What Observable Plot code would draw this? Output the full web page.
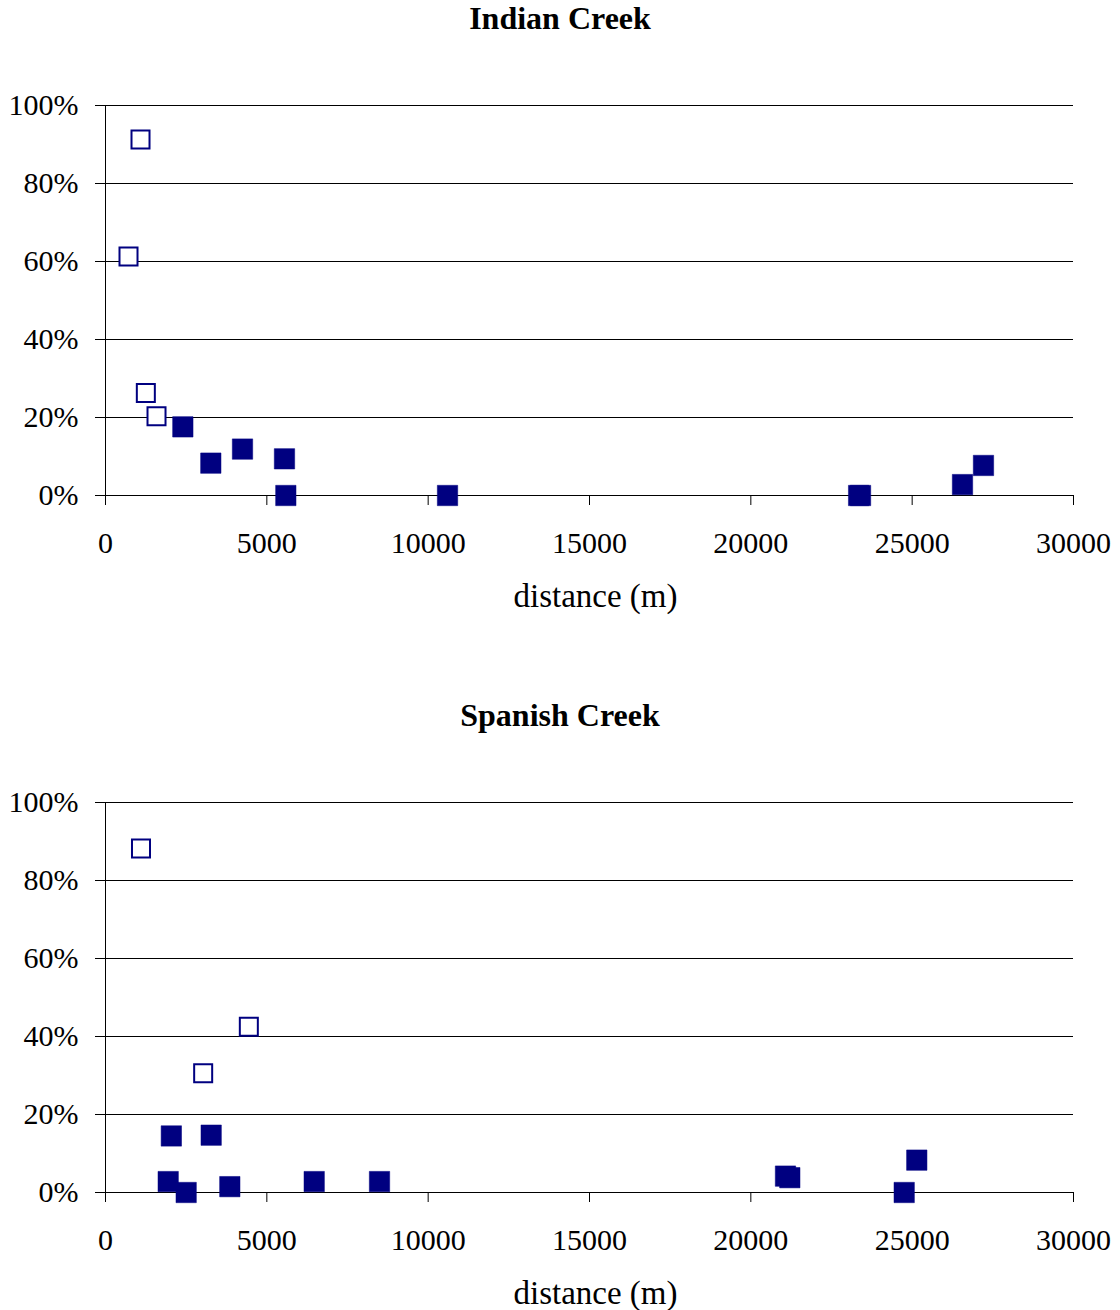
<!DOCTYPE html>
<html><head><meta charset="utf-8">
<script src="https://cdn.jsdelivr.net/npm/d3@7"></script>
<script src="https://cdn.jsdelivr.net/npm/@observablehq/plot@0.6"></script>
<style>
html,body{margin:0;padding:0;background:#fff;overflow:hidden;}
body{width:1120px;font-family:"Liberation Serif","Times New Roman",serif;color:#000;}
.title{height:36px;line-height:36px;text-align:center;font-weight:bold;font-size:32px;}
svg{display:block}
</style></head><body>
<div id="root"></div>
<script>
// Tick values
const xTicks = [0, 5000, 10000, 15000, 20000, 25000, 30000];
const yTicks = [0, 20, 40, 60, 80, 100];
const xLabel = "distance (m)";

// Indian Creek
const indianTitle = "Indian Creek";
const indianOpenDist = [1085, 713, 1250, 1581];
const indianOpenPct  = [91.3, 61.3, 26.3, 20.3];
const indianFilledDist = [2397, 3264, 4246, 5547, 5589, 10600, 23340, 23400, 26560, 27210];
const indianFilledPct  = [17.6, 8.3, 11.9, 9.4, 0, 0, 0, 0, 2.8, 7.7];

// Spanish Creek
const spanishTitle = "Spanish Creek";
const spanishOpenDist = [1100, 4442, 3027];
const spanishOpenPct  = [88.2, 42.5, 30.6];
const spanishFilledDist = [2040, 3275, 1943, 2500, 3853, 6468, 8492, 21074, 21208, 25143, 24753];
const spanishFilledPct  = [14.5, 14.7, 2.8, 0, 1.5, 2.8, 2.8, 4.2, 3.8, 8.3, 0];

const navy = "#000080";

function chart(title, openD, openP, fillD, fillP, height) {
  const wrap = document.createElement("div");
  const t = document.createElement("div");
  t.className = "title";
  t.textContent = title;
  wrap.appendChild(t);
  const openIdx = openD.map((_, i) => i);
  const fillIdx = fillD.map((_, i) => i);
  const svg = Plot.plot({
    width: 1120,
    height: height,
    marginTop: 69,
    marginLeft: 105,
    marginRight: 47,
    marginBottom: height - 69 - 390,
    style: {fontFamily: "'Liberation Serif','Times New Roman',serif", fontSize: "30px", color: "#000", background: "#fff", overflow: "visible"},
    x: {domain: [0, 30000], ticks: xTicks, tickFormat: d3.format("d"), tickSize: 10, tickPadding: 26, label: null},
    y: {domain: [0, 100], ticks: yTicks, tickFormat: d => d + "%", tickSize: 10, tickPadding: 17, label: null},
    marks: [
      Plot.ruleY(yTicks, {stroke: "#000", strokeWidth: 1}),
      Plot.ruleX([0], {stroke: "#000", strokeWidth: 1}),
      Plot.dot(fillIdx, {x: i => fillD[i], y: i => fillP[i], symbol: "square", r: 11.5, fill: navy, stroke: navy, strokeWidth: 0.5}),
      Plot.dot(openIdx, {x: i => openD[i], y: i => openP[i], symbol: "square", r: 10.16, fill: "white", stroke: navy, strokeWidth: 2}),
      Plot.text([xLabel], {text: d => d, frameAnchor: "bottom", dy: 101, dx: 6, fontSize: 33, lineAnchor: "middle", fill: "#000"})
    ]
  });
  wrap.appendChild(svg);
  return wrap;
}

const root = document.getElementById("root");
root.appendChild(chart(indianTitle, indianOpenDist, indianOpenPct, indianFilledDist, indianFilledPct, 661));
root.appendChild(chart(spanishTitle, spanishOpenDist, spanishOpenPct, spanishFilledDist, spanishFilledPct, 577));
</script>
</body></html>
